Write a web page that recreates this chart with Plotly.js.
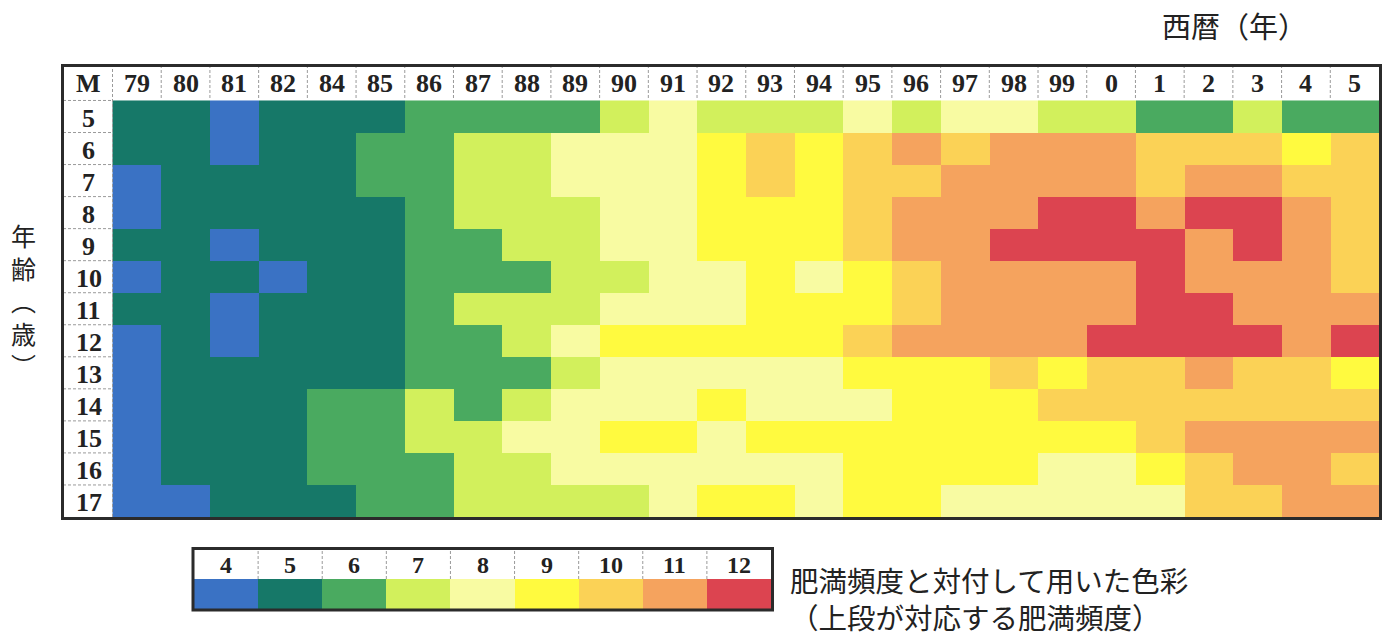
<!DOCTYPE html>
<html><head><meta charset="utf-8">
<script src="https://cdn.plot.ly/plotly-3.0.1.min.js"></script>
<style>html,body{margin:0;padding:0;background:#fff;}#chart{width:1390px;height:640px;}</style>
</head><body><div id="chart"></div><script>
// ---- data ----
const years = ['79','80','81','82','84','85','86','87','88','89','90','91','92','93','94','95','96','97','98','99','0','1','2','3','4','5'];
const ages = ['5','6','7','8','9','10','11','12','13','14','15','16','17'];
const age5  = [5,5,4,5,5,5,6,6,6,6,7,8,7,7,7,8,7,8,8,7,7,6,6,7,6,6];
const age6  = [5,5,4,5,5,6,6,7,7,8,8,8,9,10,9,10,11,10,11,11,11,10,10,10,9,10];
const age7  = [4,5,5,5,5,6,6,7,7,8,8,8,9,10,9,10,10,11,11,11,11,10,11,11,10,10];
const age8  = [4,5,5,5,5,5,6,7,7,7,8,8,9,9,9,10,11,11,11,12,12,11,12,12,11,10];
const age9  = [5,5,4,5,5,5,6,6,7,7,8,8,9,9,9,10,11,11,12,12,12,12,11,12,11,10];
const age10 = [4,5,5,4,5,5,6,6,6,7,7,8,8,9,8,9,10,11,11,11,11,12,11,11,11,10];
const age11 = [5,5,4,5,5,5,6,7,7,7,8,8,8,9,9,9,10,11,11,11,11,12,12,11,11,11];
const age12 = [4,5,4,5,5,5,6,6,7,8,9,9,9,9,9,10,11,11,11,11,12,12,12,12,11,12];
const age13 = [4,5,5,5,5,5,6,6,6,7,8,8,8,8,8,9,9,9,10,9,10,10,11,10,10,9];
const age14 = [4,5,5,5,6,6,7,6,7,8,8,8,9,8,8,8,9,9,9,10,10,10,10,10,10,10];
const age15 = [4,5,5,5,6,6,7,7,8,8,9,9,8,9,9,9,9,9,9,9,9,10,11,11,11,11];
const age16 = [4,5,5,5,6,6,6,7,7,8,8,8,8,8,8,9,9,9,9,8,8,9,10,11,11,10];
const age17 = [4,4,5,5,5,6,6,7,7,7,7,8,9,9,8,9,9,8,8,8,8,8,10,10,11,11];
const levels = [4,5,6,7,8,9,10,11,12];
const levelLabels = ['4','5','6','7','8','9','10','11','12'];

// ---- style ----
const levelColors = ['#3a72c4','#167868','#4aaa60','#d2f05c','#f8fba2','#fffa3f','#fbd256','#f5a35e','#dc4450'];
const W = 1390, H = 640;
const px = v => v / W, py = v => 1 - v / H;

const zMain = [age5,age6,age7,age8,age9,age10,age11,age12,age13,age14,age15,age16,age17];
const n = levelColors.length;
const cs = [];
levelColors.forEach((c, i) => { cs.push([i / n, c]); cs.push([(i + 1) / n, c]); });

const traces = [
  {type:'heatmap', x: years, y: ages, z: zMain, colorscale: cs, zmin: 3.5, zmax: 12.5,
   showscale:false, hoverinfo:'skip', xaxis:'x', yaxis:'y'},
  {type:'heatmap', x: levelLabels, y: ['c'], z: [levels], colorscale: cs, zmin: 3.5, zmax: 12.5,
   showscale:false, hoverinfo:'skip', xaxis:'x2', yaxis:'y2'}
];

const hdrFont = {family:'Liberation Serif', size:26, color:'#222'};
const jpFont = {family:'Noto Sans CJK JP', color:'#222'};
const ann = [];
years.forEach((y, i) => ann.push({x:i, xref:'x', y:py(84), yref:'paper', text:'<b>'+y+'</b>',
  showarrow:false, xanchor:'center', yanchor:'middle', font:hdrFont}));
ann.push({x:px(88), xref:'paper', y:py(84), yref:'paper', text:'<b>M</b>', showarrow:false,
  xanchor:'center', yanchor:'middle', font:hdrFont});
ages.forEach((a, j) => ann.push({x:px(89), xref:'paper', y:j, yref:'y', yshift:-2, text:'<b>'+a+'</b>',
  showarrow:false, xanchor:'center', yanchor:'middle', font:hdrFont}));
levelLabels.forEach((l, i) => ann.push({x:i, xref:'x2', y:py(565), yref:'paper', text:'<b>'+l+'</b>',
  showarrow:false, xanchor:'center', yanchor:'middle', font:{family:'Liberation Serif', size:24, color:'#222'}}));
ann.push({x:px(1160), xref:'paper', y:py(25), yref:'paper', text:'西暦（年）', showarrow:false,
  xanchor:'left', yanchor:'middle', font:Object.assign({size:29}, jpFont)});
ann.push({x:px(23), xref:'paper', y:py(215), yref:'paper', text:'年<br>齢<br>︵<br>歳<br>︶', showarrow:false,
  xanchor:'center', yanchor:'top', font:Object.assign({size:25}, jpFont)});
ann.push({x:px(788), xref:'paper', y:py(598), yref:'paper', align:'left',
  text:'肥満頻度と対付して用いた色彩<br>（上段が対応する肥満頻度）', showarrow:false,
  xanchor:'left', yanchor:'middle', font:Object.assign({size:28.5}, jpFont)});

const dash = {color:'#9a9a9a', width:1, dash:'3px,2px'};
const shapes = [];
for (let i = 1; i < years.length; i++)
  shapes.push({type:'line', xref:'x', x0:i-0.5, x1:i-0.5, yref:'paper', y0:py(98), y1:py(66), line:dash});
shapes.push({type:'line', xref:'x', x0:-0.5, x1:-0.5, yref:'paper', y0:py(517), y1:py(66), line:dash});
for (let j = 0; j < ages.length; j++)
  shapes.push({type:'line', xref:'paper', x0:px(63), x1:px(112), yref:'y', y0:j-0.5, y1:j-0.5, line:dash});
for (let i = 1; i < levels.length; i++)
  shapes.push({type:'line', xref:'x2', x0:i-0.5, x1:i-0.5, yref:'paper', y0:py(579), y1:py(549), line:dash});
shapes.push({type:'rect', xref:'paper', yref:'paper', x0:px(62.5), x1:px(1380.5), y0:py(518.5), y1:py(65.5),
  line:{color:'#2b2b2b', width:3}});
shapes.push({type:'rect', xref:'paper', yref:'paper', x0:px(193), x1:px(772.5), y0:py(610), y1:py(548.5),
  line:{color:'#2b2b2b', width:3}});

const axOff = {showticklabels:false, showgrid:false, zeroline:false, ticks:'', showline:false, fixedrange:true};
const layout = {
  width:W, height:H, autosize:false,
  margin:{l:0, r:0, t:0, b:0},
  paper_bgcolor:'#fff', plot_bgcolor:'#fff', showlegend:false,
  xaxis:Object.assign({type:'category', domain:[px(112), px(1379)], anchor:'y'}, axOff),
  yaxis:Object.assign({type:'category', domain:[py(517), py(98)], autorange:'reversed', anchor:'x'}, axOff),
  xaxis2:Object.assign({type:'category', domain:[px(194), px(771)], anchor:'y2'}, axOff),
  yaxis2:Object.assign({type:'category', domain:[py(609), py(579)], anchor:'x2'}, axOff),
  annotations:ann, shapes:shapes
};
Plotly.newPlot('chart', traces, layout, {displayModeBar:false, staticPlot:true});
</script></body></html>
